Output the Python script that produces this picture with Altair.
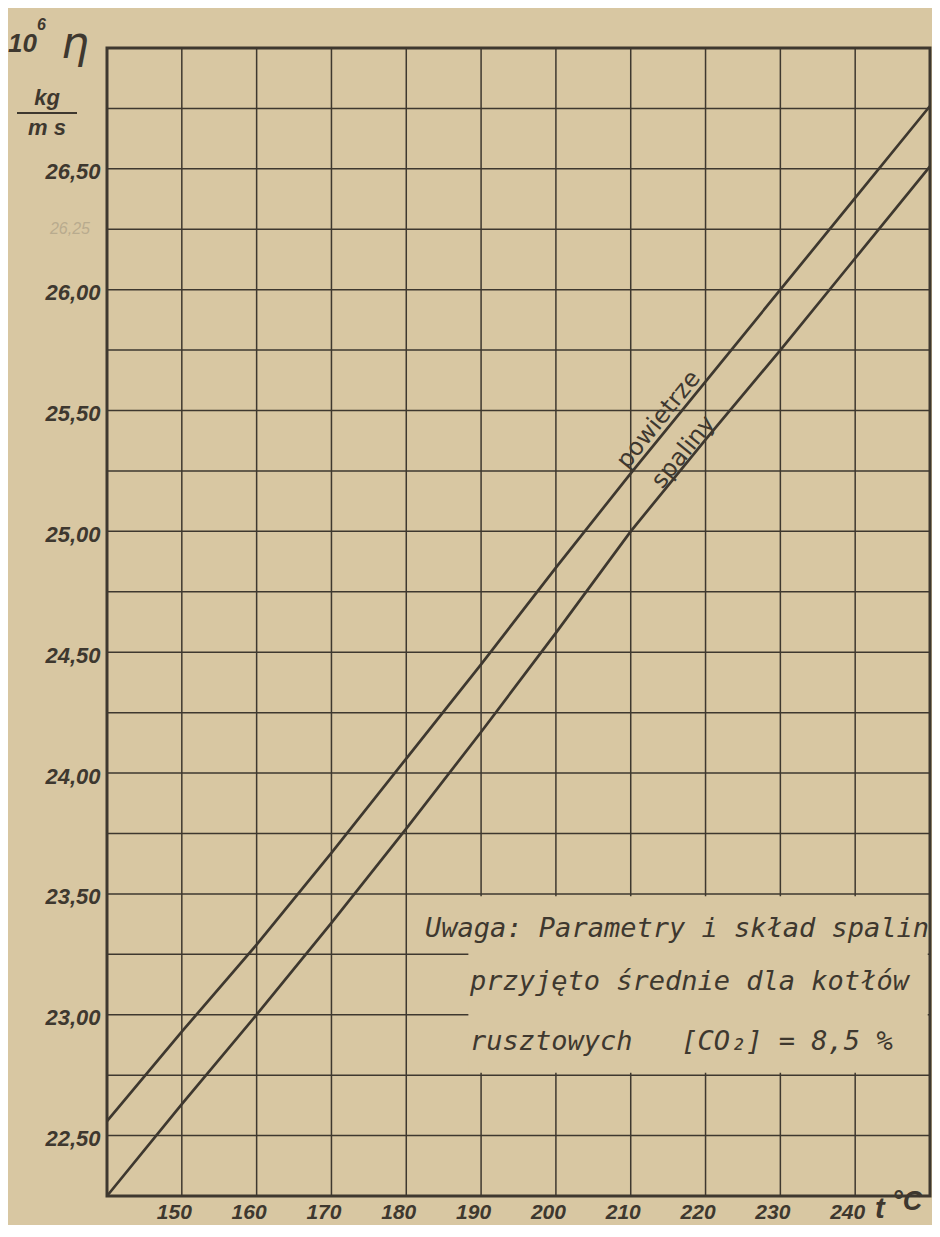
import altair as alt
import pandas as pd
import numpy as np

# ---- data ----
T = [140, 150, 160, 170, 180, 190, 200, 210, 220, 230, 240, 250]
POWIETRZE = [22.56, 22.93, 23.29, 23.67, 24.06, 24.45, 24.85, 25.24, 25.62, 26.00, 26.38, 26.76]
SPALINY = [22.25, 22.63, 23.00, 23.38, 23.77, 24.17, 24.58, 25.00, 25.38, 25.75, 26.13, 26.51]
X_TICKS = [150, 160, 170, 180, 190, 200, 210, 220, 230, 240]
Y_TICKS = [22.5, 23.0, 23.5, 24.0, 24.5, 25.0, 25.5, 26.0, 26.5]
X_GRID = [150, 160, 170, 180, 190, 200, 210, 220, 230, 240]
Y_GRID = [22.5, 22.75, 23.0, 23.25, 23.5, 23.75, 24.0, 24.25, 24.5, 24.75,
          25.0, 25.25, 25.5, 25.75, 26.0, 26.25, 26.5, 26.75]
SERIES_NAMES = ["powietrze", "spaliny"]
NBSP = "\u00a0"
NOTE_LINES = ["Uwaga: Parametry i skład spalin",
              "przyjęto średnie dla kotłów",
              "rusztowych" + NBSP * 2 + " [CO₂] = 8,5 %"]
PENCIL_NOTE = "26,25"

BG = "#d8c7a2"
INK = "#3e382f"
FONT = "Liberation Sans"
FONT2 = "DejaVu Sans"
FONT_NOTE = "DejaVu Sans Mono"

xs = alt.Scale(domain=[140, 250], nice=False, zero=False)
ys = alt.Scale(domain=[22.25, 27.0], nice=False, zero=False)

X_AXIS = alt.Axis(values=X_TICKS, title=None, grid=False, ticks=False, domain=False,
                  labelFont=FONT, labelFontSize=21, labelFontStyle="italic",
                  labelFontWeight="bold", labelColor=INK, labelPadding=5,
                  labelOffset=-8)
Y_AXIS = alt.Axis(values=Y_TICKS, title=None, grid=False, ticks=False, domain=False,
                  labelExpr="replace(format(datum.value, '.2f'), '.', ',')",
                  labelFont=FONT, labelFontSize=22, labelFontStyle="italic",
                  labelFontWeight="bold", labelColor=INK, labelPadding=7,
                  labelOffset=3, labelBaseline="middle")

def X(f):
    return alt.X(f, scale=xs, axis=X_AXIS)

def Y(f):
    return alt.Y(f, scale=ys, axis=Y_AXIS)

curves = pd.DataFrame({
    "t": T * 2,
    "eta": POWIETRZE + SPALINY,
    "series": [SERIES_NAMES[0]] * len(T) + [SERIES_NAMES[1]] * len(T),
})

vgrid = alt.Chart(pd.DataFrame({"t": X_GRID})).mark_rule(color=INK, strokeWidth=1.5).encode(
    x=X("t:Q"))
hgrid = alt.Chart(pd.DataFrame({"eta": Y_GRID})).mark_rule(color=INK, strokeWidth=1.5).encode(
    y=Y("eta:Q"))

# erased area of the grid behind the note
mask_df = pd.DataFrame({"t": [180.6, 188.3], "t2": [249.7, 249.7],
                        "eta": [23.26, 22.76], "eta2": [23.49, 23.26]})
mask = alt.Chart(mask_df).mark_rect(color=BG).encode(
    x=X("t:Q"), x2="t2", y=Y("eta:Q"), y2="eta2")

lines = alt.Chart(curves).mark_line(color=INK, strokeWidth=2.7).encode(
    x=X("t:Q"), y=Y("eta:Q"), detail="series:N")

# curve labels placed on the curves
lab_p = pd.DataFrame({"t": [215.0], "text": [SERIES_NAMES[0]]})
lab_p["eta"] = np.interp(lab_p["t"], T, POWIETRZE)
lab_s = pd.DataFrame({"t": [218.0], "text": [SERIES_NAMES[1]]})
lab_s["eta"] = np.interp(lab_s["t"], T, SPALINY)
label_p = alt.Chart(lab_p).mark_text(font=FONT2, fontSize=24, color=INK, angle=309,
                                     align="center", baseline="bottom").encode(
    x=X("t:Q"), y=Y("eta:Q"), text="text:N")
label_s = alt.Chart(lab_s).mark_text(font=FONT2, fontSize=24, color=INK, angle=309,
                                     align="center", baseline="alphabetic", dy=-2).encode(
    x=X("t:Q"), y=Y("eta:Q"), text="text:N")

one = pd.DataFrame({"a": [0]})

def txt(s, x, y, size, align="left", style="italic", weight="bold", font=FONT, color=INK):
    return alt.Chart(one).mark_text(text=s, font=font, fontSize=size, fontStyle=style,
                                    fontWeight=weight, color=color, align=align,
                                    baseline="alphabetic").encode(
        x=alt.value(x), y=alt.value(y))

note1 = txt(NOTE_LINES[0], 822, 889, 27, align="right", weight="normal", font=FONT_NOTE)
note2 = txt(NOTE_LINES[1], 363, 942, 27, align="left", weight="normal", font=FONT_NOTE)
note3 = txt(NOTE_LINES[2], 363, 1002, 27, align="left", weight="normal", font=FONT_NOTE)

t10 = txt("10", -99, 4, 26)
t6 = txt("6", -70, -18, 16)
teta = txt("η", -46, 10, 44, weight="normal", font=FONT2)
tkg = txt("kg", -60, 57, 22, align="center")
tms = txt("m s", -60, 87, 22, align="center")
bar = alt.Chart(one).mark_rule(color=INK, strokeWidth=2.2).encode(
    x=alt.value(-90), x2=alt.value(-30), y=alt.value(65))
tt = txt("t", 768, 1170, 29, weight="bold")
tc = txt("°C", 785, 1162, 27, weight="bold")

pencil = alt.Chart(pd.DataFrame({"eta": [26.25], "text": [PENCIL_NOTE]})).mark_text(
    font=FONT, fontSize=16, fontStyle="italic", color="#b8ab8e", align="right",
    baseline="middle").encode(x=alt.value(-17), y=Y("eta:Q"), text="text:N")

chart = alt.layer(
    vgrid, hgrid, mask, lines, label_p, label_s, note1, note2, note3,
    t10, t6, teta, tkg, tms, bar, tt, tc, pencil,
).properties(
    width=823, height=1148,
    autosize=alt.AutoSizeParams(type="none"),
    padding={"left": 99, "top": 40, "right": 2, "bottom": 29},
    background=BG,
).configure_view(stroke=INK, strokeWidth=3)

chart.save("out.html", embed_options={"renderer": "svg", "actions": False})
